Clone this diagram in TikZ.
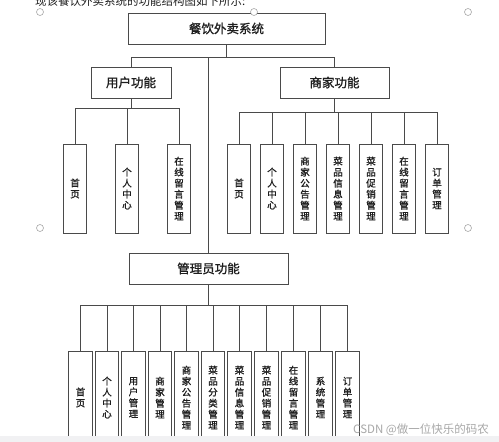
\documentclass[tikz,border=0pt]{standalone}
\usepackage{fontspec}
\setmainfont{Noto Sans CJK SC}
\newfontfamily\heavycjk{Noto Sans CJK SC}[FakeBold=1.2]
\definecolor{linec}{HTML}{4A4A4A}
\definecolor{txtc}{HTML}{1E1E1E}
\definecolor{handle}{HTML}{A8A8A8}
\definecolor{stripc}{HTML}{F1F1F3}
\definecolor{wmark}{HTML}{A8A8A8}
\begin{document}
\begin{tikzpicture}[x=1pt,y=-1pt,
  conn/.style={draw=linec,line width=0.8pt},
  headbox/.style={draw=linec,line width=0.8pt,fill=white,inner sep=0pt,minimum height=31pt,text=txtc,font=\heavycjk\fontsize{12.5}{14}\selectfont},
  leafbox/.style={draw=linec,line width=0.8pt,fill=white,inner sep=0pt,minimum width=23.5pt,text=txtc,align=center,font=\heavycjk\fontsize{9.5}{11}\selectfont},
  upleaf/.style={leafbox,minimum height=89pt},
  lowleaf/.style={leafbox,minimum height=93pt},
  handlec/.style={draw=handle,fill=white,line width=0.6pt}]
\useasboundingbox (0,0) rectangle (499,442);
\clip (0,0) rectangle (499,442);
\fill[white] (0,0) rectangle (499,442);

% caption line (cut at top, as in the reference)
\node[anchor=west,text=txtc,font=\fontsize{11.5}{13}\selectfont,inner sep=0pt] (cap) at (35,1.5) {现该餐饮外卖系统的功能结构图如下所示:};

% head boxes
\node[headbox,minimum width=197pt] (main) at (226.5,28.5) {餐饮外卖系统};
\node[headbox,minimum width=80pt] (user) at (131,82.5) {用户功能};
\node[headbox,minimum width=109pt] (shop) at (334.5,82.5) {商家功能};
\node[headbox,minimum width=159pt] (admin) at (208.5,268.5) {管理员功能};

% bar levels
\coordinate (b0) at (0,57);
\coordinate (b1) at (0,108);
\coordinate (b2) at (0,112);
\coordinate (b3) at (0,305);

% user leaves
\node[upleaf] (u1) at (75,188.5) {首\\页};
\node[upleaf] (u2) at (127,188.5) {个\\人\\中\\心};
\node[upleaf] (u3) at (179,188.5) {在\\线\\留\\言\\管\\理};

% shop leaves
\node[upleaf] (s1) at (239,188.5) {首\\页};
\node[upleaf] (s2) at (272,188.5) {个\\人\\中\\心};
\node[upleaf] (s3) at (305,188.5) {商\\家\\公\\告\\管\\理};
\node[upleaf] (s4) at (338,188.5) {菜\\品\\信\\息\\管\\理};
\node[upleaf] (s5) at (371,188.5) {菜\\品\\促\\销\\管\\理};
\node[upleaf] (s6) at (404,188.5) {在\\线\\留\\言\\管\\理};
\node[upleaf] (s7) at (437,188.5) {订\\单\\管\\理};

% admin leaves
\node[lowleaf] (a1) at (80.5,397.5) {首\\页};
\node[lowleaf] (a2) at (107,397.5) {个\\人\\中\\心};
\node[lowleaf] (a3) at (133.5,397.5) {用\\户\\管\\理};
\node[lowleaf] (a4) at (160,397.5) {商\\家\\管\\理};
\node[lowleaf] (a5) at (186.5,397.5) {商\\家\\公\\告\\管\\理};
\node[lowleaf] (a6) at (213,397.5) {菜\\品\\分\\类\\管\\理};
\node[lowleaf] (a7) at (239.5,397.5) {菜\\品\\信\\息\\管\\理};
\node[lowleaf] (a8) at (266.5,397.5) {菜\\品\\促\\销\\管\\理};
\node[lowleaf] (a9) at (293.5,397.5) {在\\线\\留\\言\\管\\理};
\node[lowleaf] (a10) at (320.5,397.5) {系\\统\\管\\理};
\node[lowleaf] (a11) at (347.5,397.5) {订\\单\\管\\理};

% level 0 connectors
\draw[conn] (main.south) -- (main.south |- b0);
\draw[conn] (user.north |- b0) -- (shop.north |- b0);
\draw[conn] (user.north |- b0) -- (user.north);
\draw[conn] (shop.north |- b0) -- (shop.north);
\draw[conn] (admin.north |- b0) -- (admin.north);

% user connectors
\draw[conn] (user.south) -- (user.south |- b1);
\draw[conn] (u1.north |- b1) -- (u3.north |- b1);
\foreach \n in {u1,u2,u3} \draw[conn] (\n.north |- b1) -- (\n.north);

% shop connectors
\draw[conn] (shop.south) -- (shop.south |- b2);
\draw[conn] (s1.north |- b2) -- (s7.north |- b2);
\foreach \n in {s1,s2,s3,s4,s5,s6,s7} \draw[conn] (\n.north |- b2) -- (\n.north);

% admin connectors
\draw[conn] (admin.south) -- (admin.south |- b3);
\draw[conn] (a1.north |- b3) -- (a11.north |- b3);
\foreach \n in {a1,a2,a3,a4,a5,a6,a7,a8,a9,a10,a11} \draw[conn] (\n.north |- b3) -- (\n.north);

% selection handles
\foreach \p/\q in {40/12,254/12,468/12,40/228,468/228}
  \draw[handlec] (\p,\q) circle (3.5pt);

% bottom strip and watermark
\fill[stripc] (0,435.5) rectangle (499,442);
\node[text=wmark,font=\fontsize{11.5}{13}\selectfont,inner sep=0pt] (wm) at (421,430) {CSDN @做一位快乐的码农};
\end{tikzpicture}
\end{document}
